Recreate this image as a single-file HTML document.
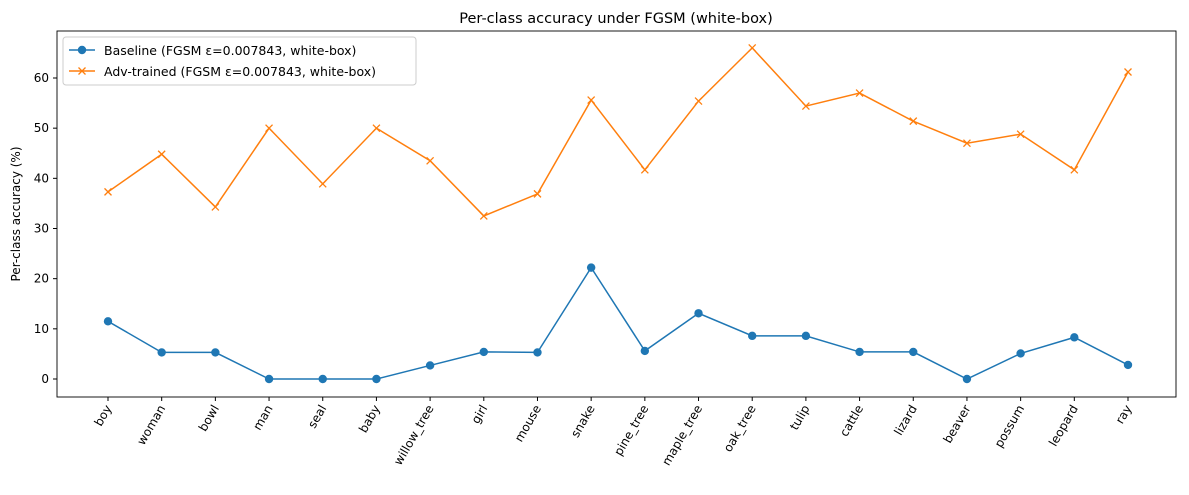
<!DOCTYPE html>
<html><head><meta charset="utf-8"><style>
body{margin:0;background:#fff;font-family:"Liberation Sans","DejaVu Sans",sans-serif;}
svg text{font-family:"DejaVu Sans","Liberation Sans",sans-serif;}
</style></head><body>
<svg id="chart" width="1189" height="490" viewBox="0 0 1189 490" xmlns="http://www.w3.org/2000/svg">
<rect width="1189" height="490" fill="#fff"/>
<text x="616" y="23" font-size="14.5" text-anchor="middle" fill="#000">Per-class accuracy under FGSM (white-box)</text>
<text transform="translate(20,214) rotate(-90)" font-size="12" text-anchor="middle">Per-class accuracy (%)</text>
<g id="grid"></g>
<rect x="57" y="31" width="1119" height="366" fill="none" stroke="#000" stroke-width="0.9"/>
<g id="legend">
<rect x="63" y="37" width="353" height="48" rx="3" fill="#fff" stroke="#ccc"/>
<g>
<line x1="69" y1="50" x2="95" y2="50" stroke="#1f77b4" stroke-width="1.5"/><circle cx="82" cy="50" r="4.2" fill="#1f77b4"/>
<text x="104" y="55" font-size="12.5">Baseline (FGSM ε=0.007843, white-box)</text></g>
<g>
<line x1="69" y1="71" x2="95" y2="71" stroke="#ff7f0e" stroke-width="1.5"/><path d="M78.5 67.5L85.5 74.5M85.5 67.5L78.5 74.5" stroke="#ff7f0e" stroke-width="1.3"/>
<text x="104" y="76" font-size="12.5">Adv-trained (FGSM ε=0.007843, white-box)</text></g>
</g>
</svg>
<script>
const categories=["boy","woman","bowl","man","seal","baby","willow_tree","girl","mouse","snake","pine_tree","maple_tree","oak_tree","tulip","cattle","lizard","beaver","possum","leopard","ray"];
const baseline=[11.5,5.3,5.3,0,0,0,2.7,5.4,5.3,22.2,5.6,13.1,8.6,8.6,5.4,5.4,0,5.1,8.3,2.8];
const advTrained=[37.3,44.8,34.3,50.0,38.9,50.0,43.5,32.5,36.9,55.6,41.7,55.4,66.0,54.4,57.0,51.4,47.0,48.8,41.7,61.2];
const yTicks=[0,10,20,30,40,50,60];
const NS="http://www.w3.org/2000/svg";
const svg=document.getElementById('chart');
const legend=document.getElementById('legend');
function xs(i){return 108+i*(1128-108)/(categories.length-1);}
function ys(v){return 379-v*(379-78)/60;}
function mk(tag,attrs){const e=document.createElementNS(NS,tag);for(const k in attrs)e.setAttribute(k,attrs[k]);return e;}
const g=mk('g',{});svg.insertBefore(g,legend);
yTicks.forEach(t=>{
 const y=ys(t);
 const tk=mk('line',{x1:53,x2:57,y1:y,y2:y,stroke:'#000'});
 
 
 g.appendChild(tk);
 const tx=mk('text',{x:49,y:y+4,'font-size':'12','text-anchor':'end'});tx.textContent=t;
 
 
 g.appendChild(tx);
});
categories.forEach((c,i)=>{
 const x=xs(i);
 const tk=mk('line',{x1:x,x2:x,y1:397,y2:401,stroke:'#000'});
 
 
 g.appendChild(tk);
 const tx=mk('text',{transform:`translate(${x+4},${408}) rotate(-60)`,'font-size':'12','text-anchor':'end'});tx.textContent=c;
 
 
 g.appendChild(tx);
});
function series(vals,color,marker,name){
 const pts=vals.map((v,i)=>xs(i)+','+ys(v)).join(' ');
 const pl=mk('polyline',{points:pts,fill:'none',stroke:color,'stroke-width':1.5});
 
 
 g.appendChild(pl);
 vals.forEach((v,i)=>{
  const x=xs(i),y=ys(v);let m;
  if(marker==='o')m=mk('circle',{cx:x,cy:y,r:4.2,fill:color});
  else m=mk('path',{d:`M${x-3.5} ${y-3.5}L${x+3.5} ${y+3.5}M${x+3.5} ${y-3.5}L${x-3.5} ${y+3.5}`,stroke:color,'stroke-width':1.3});
  
  
  g.appendChild(m);
 });
}
series(baseline,'#1f77b4','o','baseline');
series(advTrained,'#ff7f0e','x','adv-trained');
</script>
</body></html>
